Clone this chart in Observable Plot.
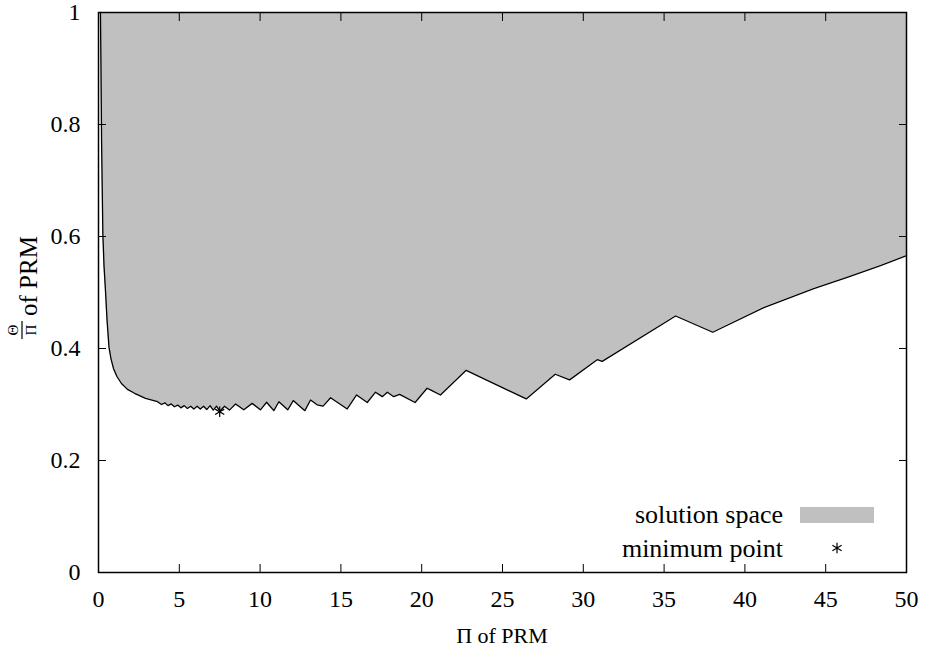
<!DOCTYPE html>
<html>
<head>
<meta charset="utf-8">
<script src="https://cdn.jsdelivr.net/npm/d3@7"></script>
<script src="https://cdn.jsdelivr.net/npm/@observablehq/plot@0.6"></script>
<style>
  html, body { margin: 0; padding: 0; background: #fff; }
  #chart svg { display: block; }
</style>
</head>
<body>
<div id="chart"></div>
<script>
// Lower boundary of the feasible region: Π of PRM vs Θ/Π of PRM
const boundaryPi = [
  0.12, 0.15, 0.19, 0.27, 0.34, 0.43, 0.53, 0.65, 0.77, 0.93, 1.14, 1.42, 1.79, 2.23, 2.91, 3.65,
  3.9, 4.1, 4.3, 4.5, 4.7, 4.9, 5.1, 5.3, 5.5, 5.7, 5.9, 6.1, 6.3, 6.5, 6.7, 6.9, 7.1, 7.3, 7.5,
  7.8, 8.1, 8.48, 8.99, 9.51, 10.02, 10.40, 10.85, 11.16, 11.71, 12.05, 12.77, 13.12, 13.53, 13.90,
  14.36, 15.39, 15.97, 16.63, 17.14, 17.56, 17.87, 18.27, 18.63, 19.59, 20.33, 20.54, 21.16, 22.75,
  26.47, 28.26, 29.15, 30.86, 31.17, 35.71, 38.01, 41.17, 44.26, 46.33, 48.39, 50
];
const boundaryRatio = [
  1.0, 0.914, 0.771, 0.604, 0.548, 0.504, 0.45, 0.402, 0.382, 0.364, 0.35, 0.3375, 0.327, 0.320, 0.311, 0.305,
  0.300, 0.303, 0.298, 0.301, 0.296, 0.299, 0.294, 0.298, 0.293, 0.297, 0.292, 0.297, 0.292, 0.297, 0.291, 0.298, 0.290, 0.297, 0.288,
  0.297, 0.290, 0.301, 0.2905, 0.302, 0.2905, 0.304, 0.289, 0.305, 0.2905, 0.307, 0.289, 0.308, 0.2995, 0.297,
  0.312, 0.292, 0.317, 0.3036, 0.322, 0.314, 0.322, 0.314, 0.318, 0.3036, 0.329, 0.326, 0.317, 0.361,
  0.310, 0.354, 0.344, 0.380, 0.377, 0.458, 0.429, 0.473, 0.507, 0.527, 0.548, 0.566
];
const minPi = [7.5];
const minRatio = [0.287];

const xTicks = [0, 5, 10, 15, 20, 25, 30, 35, 40, 45, 50];
const yTicks = [0, 0.2, 0.4, 0.6, 0.8, 1];

const boundary = boundaryPi.map((x, i) => ({x, y: boundaryRatio[i]}));
const minimum = minPi.map((x, i) => ({x, y: minRatio[i]}));

const fillGray = "#c0c0c0";
const serif = "Liberation Serif";

const chart = Plot.plot({
  width: 928,
  height: 653,
  marginLeft: 98,
  marginRight: 22,
  marginTop: 12,
  marginBottom: 81,
  style: {fontFamily: serif, fontSize: "24px", color: "black", background: "white"},
  x: {domain: [0, 50]},
  y: {domain: [0, 1]},
  marks: [
    Plot.areaY(boundary, {x: "x", y1: "y", y2: 1, fill: fillGray}),
    Plot.line(boundary, {x: "x", y: "y", stroke: "black", strokeWidth: 1.3}),
    Plot.dot(minimum, {x: "x", y: "y", symbol: "asterisk", r: 5, stroke: "black", strokeWidth: 1.2}),
    // inward ticks on all four sides
    Plot.axisX(xTicks, {anchor: "bottom", tickSize: -8, fill: "none", label: null}),
    Plot.axisX(xTicks, {anchor: "top", tickSize: -8, fill: "none", label: null}),
    Plot.axisY(yTicks, {anchor: "left", tickSize: -8, fill: "none", label: null}),
    Plot.axisY(yTicks, {anchor: "right", tickSize: -8, fill: "none", label: null}),
    // tick labels
    Plot.axisX(xTicks, {anchor: "bottom", tickSize: 0, tickPadding: 17, label: null, tickFormat: d => String(d)}),
    Plot.axisY(yTicks, {anchor: "left", tickSize: 0, tickPadding: 18, label: null, tickFormat: d => String(d)}),
    Plot.frame({stroke: "black", strokeWidth: 1.5})
  ]
});

document.getElementById("chart").appendChild(chart);

const svg = d3.select(chart);

// x axis title
svg.append("text")
  .attr("x", 502).attr("y", 643)
  .attr("text-anchor", "middle")
  .style("font-size", "22px")
  .attr("fill", "black")
  .text("Π of PRM");

// y axis title: Θ over Π, then "of PRM", rotated
const yl = svg.append("g").attr("transform", "rotate(-90)").attr("fill", "black");
yl.append("text").attr("x", -330).attr("y", 18).attr("text-anchor", "middle")
  .style("font-size", "15px").text("Θ");
yl.append("line").attr("x1", -339).attr("x2", -321).attr("y1", 22).attr("y2", 22)
  .attr("stroke", "black").attr("stroke-width", 1.2);
yl.append("text").attr("x", -330).attr("y", 35.5).attr("text-anchor", "middle")
  .style("font-size", "15px").text("Π");
yl.append("text").attr("x", -316).attr("y", 37).attr("text-anchor", "start")
  .style("font-size", "25px").text("of PRM");

// legend
const lg = svg.append("g").attr("fill", "black").style("font-size", "26px");
lg.append("text").attr("x", 783).attr("y", 523).attr("text-anchor", "end").text("solution space");
lg.append("rect").attr("x", 800).attr("y", 507).attr("width", 74).attr("height", 16).attr("fill", fillGray);
lg.append("text").attr("x", 783).attr("y", 557).attr("text-anchor", "end").text("minimum point");
lg.append("path").attr("transform", "translate(837,548)")
  .attr("d", d3.symbol(d3.symbolAsterisk, 80)())
  .attr("stroke", "black").attr("fill", "none").attr("stroke-width", 1.2);
</script>
</body>
</html>
